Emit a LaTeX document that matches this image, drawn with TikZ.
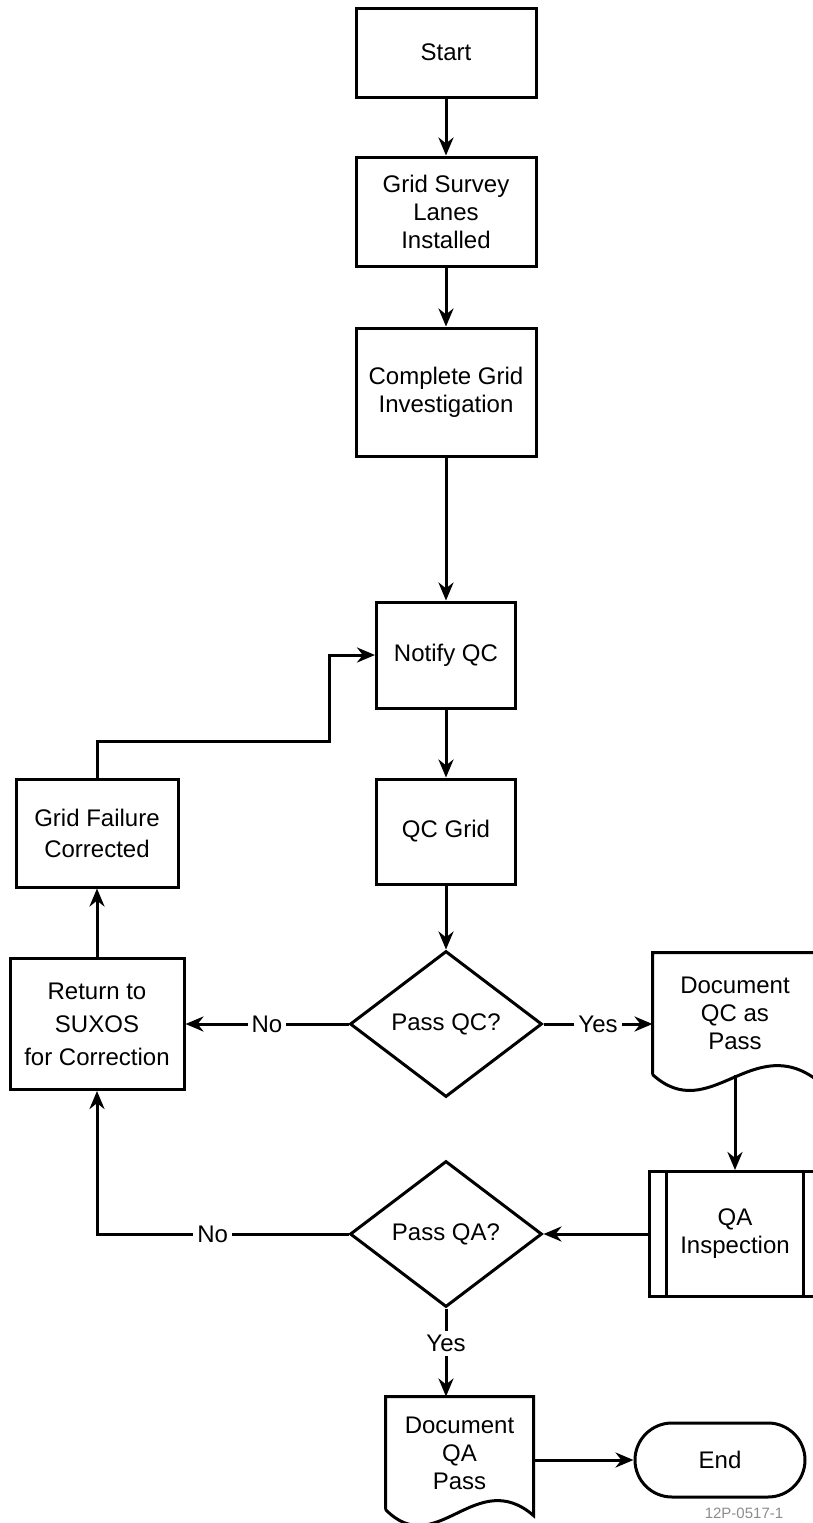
\documentclass[tikz,border=0pt]{standalone}
\usepackage{fontspec}
\setmainfont{Liberation Sans}
\usetikzlibrary{arrows.meta,shapes.geometric}
\tikzset{
  box/.style={draw, line width=1.5pt, inner sep=0pt, align=center,
    font=\fontsize{12}{14}\selectfont},
  decision/.style={box, diamond, aspect=1.3, minimum width=96pt, minimum height=73pt},
  doc/.style={box, draw=none},
  terminal/.style={box, rounded corners=18.5pt, minimum width=85pt, minimum height=37pt},
  flow/.style={line width=1.5pt, -{Stealth[length=9pt,width=7.5pt]}},
  answer/.style={fill=white, inner sep=2pt, font=\fontsize{12}{14}\selectfont},
}
\begin{document}
\begin{tikzpicture}[x=0.5pt,y=-0.5pt]
      \clip (0,0) rectangle (813,1523);
      % main column
      \node[box, minimum width=90pt, minimum height=44.5pt] (start) at (446,52.5) {Start};
      \node[box, minimum width=90pt, minimum height=54.5pt] (survey) at (446,211.5) {Grid Survey\\Lanes\\Installed};
      \node[box, minimum width=90pt, minimum height=64pt] (complete) at (446,392) {Complete Grid\\Investigation};
      \node[box, minimum width=69.5pt, minimum height=53pt] (notify) at (446,655) {Notify QC};
      \node[box, minimum width=69.5pt, minimum height=52.5pt] (qcgrid) at (446,831.5) {QC Grid};
      \node[decision] (passqc) at (446,1024) {Pass QC?};
      \node[decision] (passqa) at (446,1234) {Pass QA?};
      % left side
      \node[box, minimum width=87pt, minimum height=65.5pt, font=\fontsize{12}{16.5}\selectfont] (ret) at (97,1024) {Return to\\SUXOS\\for Correction};
      \node[box, minimum width=81pt, minimum height=54pt, font=\fontsize{12}{15.5}\selectfont] (failure) at (97,833) {Grid Failure\\Corrected};
      \coordinate (bend) at (329,741);
      % right side
      \node[doc, minimum width=81pt, minimum height=59.5pt] (docqc) at (735,1013.5) {Document\\QC as\\Pass};
      \node[box, minimum width=86pt, minimum height=62.5pt] (qa) at (735,1234) {QA\\Inspection};
      \node[doc, minimum width=72.5pt, minimum height=55pt] (docqa) at (459.5,1453) {Document\\QA\\Pass};
      \node[terminal] (finish) at (720,1460) {End};
      \node[font=\fontsize{7.5}{9}\selectfont, text=black!45, inner sep=0pt] (tag) at (744,1513) {12P-0517-1};
      % document outlines and process bars
      \draw[line width=1.5pt] (docqc.south west) -- (docqc.north west) -- (docqc.north east)
        -- ([yshift=-3pt]docqc.south east) .. controls +(-65,-50) and +(57,52) .. (docqc.south west);
      \draw[line width=1.5pt] (docqa.south west) -- (docqa.north west) -- (docqa.north east)
        -- ([yshift=-3pt]docqa.south east) .. controls +(-58,-50) and +(51,52) .. (docqa.south west);
      \draw[line width=1.5pt] ([xshift=9.5pt]qa.north west) -- ([xshift=9.5pt]qa.south west)
        ([xshift=-9.5pt]qa.north east) -- ([xshift=-9.5pt]qa.south east);
      \begin{scope}[flow]
        \draw (start) -- (survey);
        \draw (survey) -- (complete);
        \draw (complete) -- (notify);
        \draw (notify) -- (qcgrid);
        \draw (qcgrid) -- (passqc);
        \draw (passqc) -- node[answer]{No} (ret);
        \draw (passqc.east) -- node[answer]{Yes} (passqc.east -| docqc.west);
        \draw (docqc) -- (qa);
        \draw (qa) -- (passqa);
        \draw (passqa) -| node[answer, pos=0.27]{No} (ret);
        \draw (passqa) -- node[answer, pos=0.4]{Yes} (passqa |- docqa.north);
        \draw (docqa.east |- finish) -- (finish);
        \draw (ret) -- (failure);
        \draw (failure) |- (bend) |- (notify);
      \end{scope}
    \end{tikzpicture}
\end{document}
